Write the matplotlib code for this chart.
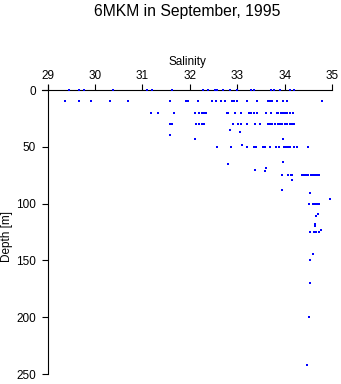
import matplotlib
matplotlib.use("Agg")
import matplotlib.pyplot as plt

plt.rcParams['font.family'] = ['Liberation Sans', 'DejaVu Sans']

# salinity readings per standard depth [m]
depths = [0, 10, 20, 30, 50, 75, 100, 125, 150, 200]
sal_rows = [
    [29.45, 29.67, 29.77, 30.38, 31.09, 31.20, 31.63, 32.27, 32.39, 32.53, 32.58,
     32.69, 32.85, 33.00, 33.28, 33.35, 33.72, 33.77, 33.90, 34.12, 34.20],
    [29.37, 29.67, 29.91, 30.31, 30.70, 31.59, 31.92, 31.97, 32.18, 32.47, 32.55,
     32.66, 32.74, 32.88, 32.94, 32.99, 33.21, 33.42, 33.65, 33.69, 33.74, 33.83,
     33.97, 34.04, 34.79],
    [31.19, 31.33, 31.67, 32.11, 32.20, 32.25, 32.30, 32.35, 32.78, 32.81, 32.95,
     33.08, 33.25, 33.29, 33.36, 33.41, 33.61, 33.71, 33.83, 33.87, 33.92, 33.97,
     34.01, 34.06, 34.11, 34.17],
    [31.58, 31.62, 32.13, 32.20, 32.25, 32.30, 32.90, 33.02, 33.08, 33.20, 33.37,
     33.49, 33.64, 33.69, 33.74, 33.80, 33.85, 33.90, 33.95, 34.01, 34.06, 34.11,
     34.16, 34.20],
    [32.57, 32.86, 33.21, 33.35, 33.40, 33.55, 33.58, 33.69, 33.82, 33.89, 33.99,
     34.03, 34.08, 34.12, 34.19, 34.27, 34.49],
    [33.95, 34.08, 34.13, 34.16, 34.36, 34.41, 34.45, 34.50, 34.55, 34.59, 34.64,
     34.69, 34.73],
    [34.51, 34.59, 34.64, 34.69, 34.73],
    [34.54, 34.62, 34.66, 34.73],
    [34.54],
    [34.51],
]

# odd samples between standard depths
extra_sal = [32.85, 33.06, 31.59, 32.11, 33.97, 33.09, 33.96, 32.80, 33.38, 33.61,
             33.58, 34.16, 33.95, 34.54, 34.96, 34.70, 34.67, 34.65, 34.65, 34.77,
             34.60, 34.54, 34.48]
extra_depth = [35, 37, 40, 43, 43, 48, 63, 65, 70, 69,
               71, 79, 88, 91, 96, 109, 111, 118, 120, 123,
               144, 170, 242]

salinity = [s for row in sal_rows for s in row] + extra_sal
depth = [d for d, row in zip(depths, sal_rows) for _ in row] + extra_depth

fig = plt.figure(figsize=(3.41, 3.84), dpi=100)
ax = fig.add_axes([0.119, 0.020, 0.8616, 0.7604])

ax.plot(salinity, depth, linestyle='none', marker='s', markersize=2.1,
        markeredgewidth=0, color='#0000ff', clip_on=False, zorder=3)

ax.set_xlim(28.85, 35.05)
ax.set_ylim(252, -5)

ax.spines['right'].set_visible(False)
ax.spines['bottom'].set_visible(False)
ax.spines['top'].set_position(('data', 0))
ax.spines['top'].set_bounds(28.87, 35)
ax.spines['left'].set_position(('data', 29))
ax.spines['left'].set_bounds(-4.4, 250)

ax.xaxis.tick_top()
ax.xaxis.set_label_position('top')
ax.set_xticks([29, 30, 31, 32, 33, 34, 35])
ax.set_yticks([0, 50, 100, 150, 200, 250])
ax.tick_params(axis='x', length=4, width=0.8, pad=1.5, labelsize=8.5)
ax.tick_params(axis='y', length=4, width=0.8, pad=4.5, labelsize=8.5)

ax.set_xlabel('Salinity', fontsize=8.5, labelpad=4)
ax.set_ylabel('Depth [m]', fontsize=8.5)
ax.yaxis.set_label_coords(-0.095, 0.48)

fig.suptitle('6MKM in September, 1995', x=0.548, y=0.99, fontsize=11.3)

fig.savefig('out.png', dpi=100)
